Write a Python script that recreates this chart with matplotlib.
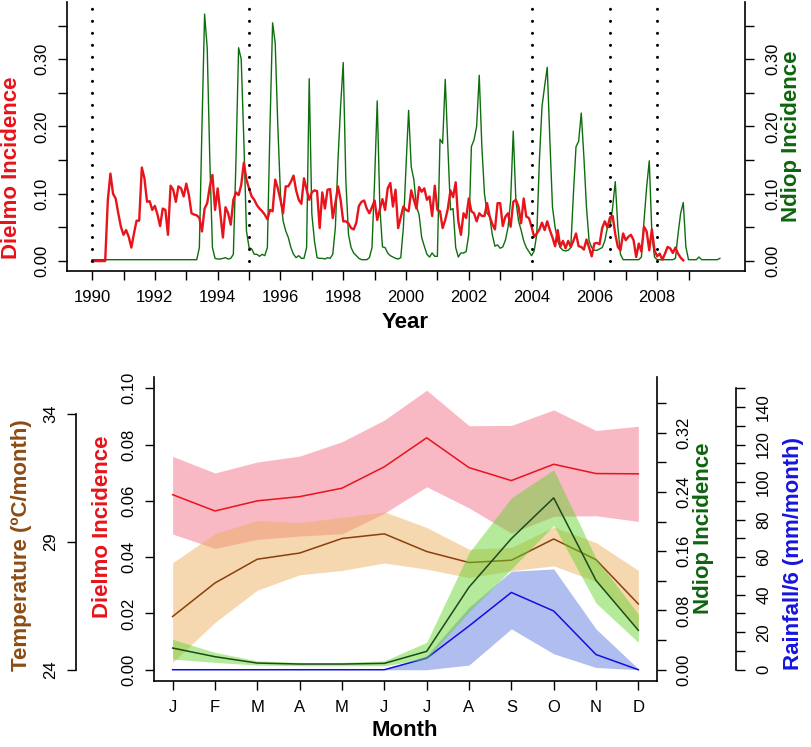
import numpy as np
import matplotlib
matplotlib.use('Agg')
import matplotlib.pyplot as plt

plt.rcParams['font.family'] = ['Liberation Sans', 'DejaVu Sans']

# ---------------- data: top panel (monthly incidence, from Jan 1990) ----------------
dielmo_ts = [
    0, 0, 0, 0, 0, 0, 0.09, 0.13, 0.10, 0.093, 0.071, 0.051,
    0.039, 0.046, 0.036, 0.020, 0.041, 0.060, 0.060, 0.139, 0.123, 0.088, 0.089, 0.076,
    0.082, 0.069, 0.052, 0.078, 0.076, 0.039, 0.112, 0.106, 0.088, 0.111, 0.108, 0.096,
    0.115, 0.098, 0.071, 0.069, 0.068, 0.064, 0.044, 0.078, 0.086, 0.111, 0.128, 0.076,
    0.108, 0.071, 0.035, 0.080, 0.071, 0.054, 0.091, 0.102, 0.098, 0.113, 0.146, 0.121,
    0.108, 0.096, 0.091, 0.083, 0.078, 0.074, 0.069, 0.062, 0.076, 0.074, 0.121, 0.108,
    0.091, 0.071, 0.111, 0.111, 0.118, 0.127, 0.105, 0.091, 0.085, 0.123, 0.106, 0.091,
    0.102, 0.105, 0.104, 0.049, 0.102, 0.078, 0.106, 0.107, 0.064, 0.086, 0.111, 0.091,
    0.059, 0.059, 0.056, 0.049, 0.047, 0.057, 0.082, 0.088, 0.090, 0.078, 0.071, 0.080,
    0.090, 0.061, 0.077, 0.092, 0.076, 0.108, 0.116, 0.081, 0.106, 0.049, 0.065, 0.081,
    0.076, 0.074, 0.105, 0.091, 0.078, 0.110, 0.103, 0.108, 0.091, 0.096, 0.067, 0.112,
    0.076, 0.074, 0.049, 0.061, 0.078, 0.105, 0.095, 0.117, 0.059, 0.039, 0.071, 0.064,
    0.093, 0.074, 0.071, 0.059, 0.071, 0.067, 0.067, 0.086, 0.066, 0.055, 0.047, 0.086,
    0.086, 0.052, 0.066, 0.071, 0.051, 0.088, 0.091, 0.081, 0.056, 0.093, 0.066, 0.064,
    0.051, 0.036, 0.041, 0.047, 0.057, 0.046, 0.059, 0.046, 0.035, 0.022, 0.046, 0.021,
    0.030, 0.019, 0.030, 0.021, 0.030, 0.041, 0.022, 0.021, 0.017, 0.032, 0.020, 0.007,
    0.026, 0.027, 0.025, 0.049, 0.059, 0.050, 0.065, 0.067, 0.040, 0.021, 0.016, 0.041,
    0.031, 0.036, 0.039, 0.031, 0.006, 0.026, 0.014, 0.051, 0.044, 0.016, 0.047, 0.016,
    0.007, 0.011, 0.002, 0.011, 0.021, 0.019, 0.012, 0.020, 0.011, 0.005, 0.001,
]
ndiop_ts = [
    0.002, 0.002, 0.002, 0.002, 0.002, 0.002, 0.002, 0.002, 0.002, 0.002, 0.002, 0.002,
    0.002, 0.002, 0.002, 0.002, 0.002, 0.002, 0.002, 0.002, 0.002, 0.002, 0.002, 0.002,
    0.002, 0.002, 0.002, 0.002, 0.002, 0.002, 0.002, 0.002, 0.002, 0.002, 0.002, 0.002,
    0.002, 0.002, 0.002, 0.002, 0.002, 0.020, 0.200, 0.367, 0.317, 0.150, 0.020, 0.004,
    0.003, 0.003, 0.004, 0.005, 0.003, 0.004, 0.010, 0.150, 0.317, 0.300, 0.180, 0.045,
    0.020, 0.018, 0.010, 0.010, 0.007, 0.010, 0.008, 0.020, 0.200, 0.354, 0.324, 0.200,
    0.100, 0.060, 0.045, 0.035, 0.020, 0.010, 0.005, 0.008, 0.004, 0.004, 0.020, 0.271,
    0.070, 0.030, 0.005, 0.004, 0.004, 0.003, 0.005, 0.004, 0.010, 0.050, 0.150, 0.230,
    0.295, 0.120, 0.040, 0.020, 0.012, 0.008, 0.004, 0.002, 0.002, 0.002, 0.005, 0.020,
    0.120, 0.238, 0.080, 0.021, 0.020, 0.012, 0.008, 0.006, 0.004, 0.003, 0.005, 0.050,
    0.140, 0.224, 0.140, 0.121, 0.081, 0.069, 0.035, 0.022, 0.010, 0.006, 0.012, 0.007,
    0.007, 0.181, 0.175, 0.270, 0.170, 0.076, 0.078, 0.020, 0.006, 0.012, 0.012, 0.014,
    0.040, 0.170, 0.180, 0.200, 0.276, 0.170, 0.100, 0.071, 0.066, 0.039, 0.022, 0.024,
    0.019, 0.021, 0.031, 0.050, 0.090, 0.193, 0.090, 0.060, 0.046, 0.030, 0.020, 0.014,
    0.008, 0.015, 0.040, 0.150, 0.230, 0.260, 0.288, 0.180, 0.080, 0.050, 0.030, 0.020,
    0.016, 0.015, 0.016, 0.020, 0.100, 0.170, 0.178, 0.220, 0.155, 0.080, 0.030, 0.020,
    0.016, 0.016, 0.018, 0.020, 0.030, 0.050, 0.050, 0.080, 0.118, 0.050, 0.010, 0.002,
    0.002, 0.002, 0.002, 0.002, 0.002, 0.002, 0.006, 0.060, 0.110, 0.149, 0.040, 0.006,
    0.002, 0.002, 0.002, 0.002, 0.002, 0.002, 0.002, 0.004, 0.040, 0.071, 0.087, 0.021,
    0.002, 0.002, 0.002, 0.002, 0.006, 0.002, 0.002, 0.002, 0.002, 0.002, 0.002, 0.002,
    0.004,
]
event_years = [1990, 1995, 2004, 2006.5, 2008]
year_ticks = list(range(1990, 2010))
inc_ticks_top = [0.00, 0.05, 0.10, 0.15, 0.20, 0.25, 0.30, 0.35]

# ---------------- data: bottom panel (monthly means and bands) ----------------
months = ['J', 'F', 'M', 'A', 'M', 'J', 'J', 'A', 'S', 'O', 'N', 'D']
dielmo_mean = [0.0622, 0.0564, 0.0600, 0.0615, 0.0645, 0.0721, 0.0824, 0.0718, 0.0672, 0.0730, 0.0697, 0.0696]
dielmo_hi = [0.0758, 0.0699, 0.0738, 0.0759, 0.0810, 0.0887, 0.0993, 0.0867, 0.0868, 0.0923, 0.0850, 0.0865]
dielmo_lo = [0.0482, 0.0431, 0.0463, 0.0475, 0.0483, 0.0556, 0.0650, 0.0575, 0.0485, 0.0545, 0.0547, 0.0527]
temp_mean = [26.08, 27.39, 28.32, 28.56, 29.13, 29.31, 28.62, 28.19, 28.28, 29.11, 28.30, 26.57]
temp_hi = [28.18, 29.32, 29.83, 29.75, 29.95, 30.17, 29.56, 28.71, 28.78, 29.58, 28.97, 27.88]
temp_lo = [24.29, 25.85, 27.11, 27.71, 27.88, 28.17, 27.93, 27.60, 27.87, 28.06, 27.45, 25.60]
ndiop_mean = [0.0293, 0.0176, 0.0090, 0.0077, 0.0077, 0.0086, 0.0248, 0.1115, 0.1770, 0.2320, 0.1205, 0.0532]
ndiop_hi = [0.0410, 0.0234, 0.0120, 0.0099, 0.0099, 0.0120, 0.0370, 0.1580, 0.2320, 0.2700, 0.1500, 0.0750]
ndiop_lo = [0.0144, 0.0099, 0.0063, 0.0054, 0.0054, 0.0054, 0.0145, 0.0780, 0.1360, 0.1950, 0.0900, 0.0370]
rain_mean = [0, 0, 0, 0, 0, 0, 6.2, 23.3, 41.2, 31.3, 8.1, 0]
rain_hi = [0, 0, 0, 0, 0, 0, 7.5, 33.3, 52.5, 53.7, 21.7, 0.5]
rain_lo = [0, 0, 0, 0, 0, 0, 0, 2.5, 21.8, 8.5, 1.2, 0]
dielmo_ticks = [0.00, 0.02, 0.04, 0.06, 0.08, 0.10]
temp_ticks = [24, 29, 34]
ndiop_ticks = [0.00, 0.04, 0.08, 0.12, 0.16, 0.20, 0.24, 0.28, 0.32, 0.36]
rain_ticks = list(range(0, 151, 10))

# ---------------- style ----------------
RED = '#E8131B'
GREEN_TOP = '#0E6E0E'
GREEN_DARK = '#1B4A1B'
BROWN = '#8B3F0A'
BLUE = '#1010E0'
TXT_GREEN = '#0F640F'
TXT_BROWN = '#8B4C14'
TXT_BLUE = '#1515DD'
FS = 12
TFS = 16
TL = 6.5

W, H = 812, 747
fig = plt.figure(figsize=(W / 100, H / 100), dpi=100)


def fx(x):
    return x / W


def fy(y):
    return 1 - y / H


def style_spines(ax, show):
    for s in ['left', 'right', 'top', 'bottom']:
        ax.spines[s].set_visible(s in show)
        ax.spines[s].set_linewidth(1.2)


# ================= TOP PANEL =================
ax1 = fig.add_axes([fx(67), fy(271), fx(745) - fx(67), fy(2) - fy(271)])
t_d = 1990 + np.arange(len(dielmo_ts)) / 12.0
t_n = 1990 + np.arange(len(ndiop_ts)) / 12.0
ax1.plot(t_n, ndiop_ts, color=GREEN_TOP, lw=1.0, zorder=2)
ax1.plot(t_d, dielmo_ts, color=RED, lw=1.7, zorder=3)
top_ylim = (-0.0148, 0.385)
for ev in event_years:
    ax1.plot([ev, ev], [0, top_ylim[1]], color='k', lw=2.2,
             ls=(0, (0.01, 3.92)), dash_capstyle='round', zorder=4)
ax1.set_xlim(1989.2, 2010.8)
ax1.set_ylim(*top_ylim)
style_spines(ax1, ['left', 'bottom', 'right'])
ax1.set_xticks(year_ticks, [str(y) if y % 2 == 0 else '' for y in year_ticks])
inc_labels = ['%.2f' % v if round(v * 100) % 10 == 0 else '' for v in inc_ticks_top]
ax1.set_yticks(inc_ticks_top, inc_labels, rotation=90, va='center')
ax1.tick_params(axis='x', length=TL, width=1.0, pad=7.5, labelsize=FS)
ax1.tick_params(axis='y', length=TL, width=1.0, pad=6, labelsize=FS)

ax1r = ax1.twinx()
ax1r.set_ylim(*top_ylim)
style_spines(ax1r, [])
ax1r.set_yticks(inc_ticks_top, inc_labels, rotation=90, va='center')
ax1r.tick_params(axis='y', length=TL, width=1.0, pad=8, labelsize=FS)

fig.text(fx(12), fy(168), 'Dielmo Incidence', rotation=90, ha='center', va='center',
         color=RED, fontsize=TFS, fontweight='bold')
fig.text(fx(792), fy(136), 'Ndiop Incidence', rotation=90, ha='center', va='center',
         color=TXT_GREEN, fontsize=TFS, fontweight='bold')
fig.text(fx(405), fy(322), 'Year', ha='center', va='center', color='black',
         fontsize=TFS, fontweight='bold')

# ================= BOTTOM PANEL =================
x = np.arange(1, 13)
ax2 = fig.add_axes([fx(154), fy(681), fx(657) - fx(154), fy(377) - fy(681)])
ax2.fill_between(x, dielmo_lo, dielmo_hi, color='#F3738B', alpha=0.5, lw=0)
ax2.plot(x, dielmo_mean, color=RED, lw=1.1)
ax2.set_xlim(0.56, 12.44)
ax2.set_ylim(-0.004, 0.104)
style_spines(ax2, ['left', 'bottom'])
ax2.set_xticks(x, months)
ax2.set_yticks(dielmo_ticks, ['%.2f' % v for v in dielmo_ticks], rotation=90, va='center')
ax2.tick_params(axis='x', length=TL, width=1.0, pad=7.5, labelsize=FS)
ax2.tick_params(axis='y', length=TL, width=1.0, pad=6, labelsize=FS)

# temperature axis (offset left)
axT = ax2.twinx()
axT.fill_between(x, temp_lo, temp_hi, color='#EDB063', alpha=0.5, lw=0)
axT.plot(x, temp_mean, color=BROWN, lw=1.1)
axT.set_ylim(23.56, 35.44)
style_spines(axT, ['left'])
axT.spines['left'].set_position(('axes', (76 - 154) / 503))
axT.spines['left'].set_bounds(24, 34)
axT.yaxis.set_ticks_position('left')
axT.yaxis.set_label_position('left')
axT.set_yticks(temp_ticks, [str(v) for v in temp_ticks], rotation=90, va='center')
axT.tick_params(axis='y', length=TL, width=1.0, pad=6.5, labelsize=FS)

# rainfall axis (offset right)
axR = ax2.twinx()
axR.fill_between(x, rain_lo, rain_hi, color='#617DE1', alpha=0.5, lw=0)
axR.plot(x, rain_mean, color=BLUE, lw=1.1)
axR.set_ylim(-6, 156)
style_spines(axR, ['right'])
axR.spines['right'].set_position(('axes', (736 - 154) / 503))
axR.spines['right'].set_bounds(0, 150)
axR.set_yticks(rain_ticks, [str(v) if v % 20 == 0 and v < 150 else '' for v in rain_ticks],
               rotation=90, va='center')
axR.tick_params(axis='y', length=TL, width=1.0, pad=8, labelsize=FS)

# Ndiop axis (right)
axN = ax2.twinx()
axN.fill_between(x, ndiop_lo, ndiop_hi, color='#62D42C', alpha=0.48, lw=0)
axN.plot(x, ndiop_mean, color=GREEN_DARK, lw=1.1)
axN.set_ylim(-0.0152, 0.3952)
style_spines(axN, ['right'])
axN.set_yticks(ndiop_ticks, ['%.2f' % v if round(v * 100) % 8 == 0 else '' for v in ndiop_ticks],
               rotation=90, va='center')
axN.tick_params(axis='y', length=TL, width=1.0, pad=7.5, labelsize=FS)

fig.text(fx(22), fy(545), 'Temperature (ºC/month)', rotation=90, ha='center', va='center',
         color=TXT_BROWN, fontsize=TFS, fontweight='bold')
fig.text(fx(102), fy(527), 'Dielmo Incidence', rotation=90, ha='center', va='center',
         color=RED, fontsize=TFS, fontweight='bold')
fig.text(fx(704), fy(528), 'Ndiop Incidence', rotation=90, ha='center', va='center',
         color=TXT_GREEN, fontsize=TFS, fontweight='bold')
fig.text(fx(794), fy(554), 'Rainfall/6 (mm/month)', rotation=90, ha='center', va='center',
         color=TXT_BLUE, fontsize=TFS, fontweight='bold')
fig.text(fx(405), fy(731), 'Month', ha='center', va='center', color='black',
         fontsize=TFS, fontweight='bold')

fig.savefig('out.png', dpi=100)
